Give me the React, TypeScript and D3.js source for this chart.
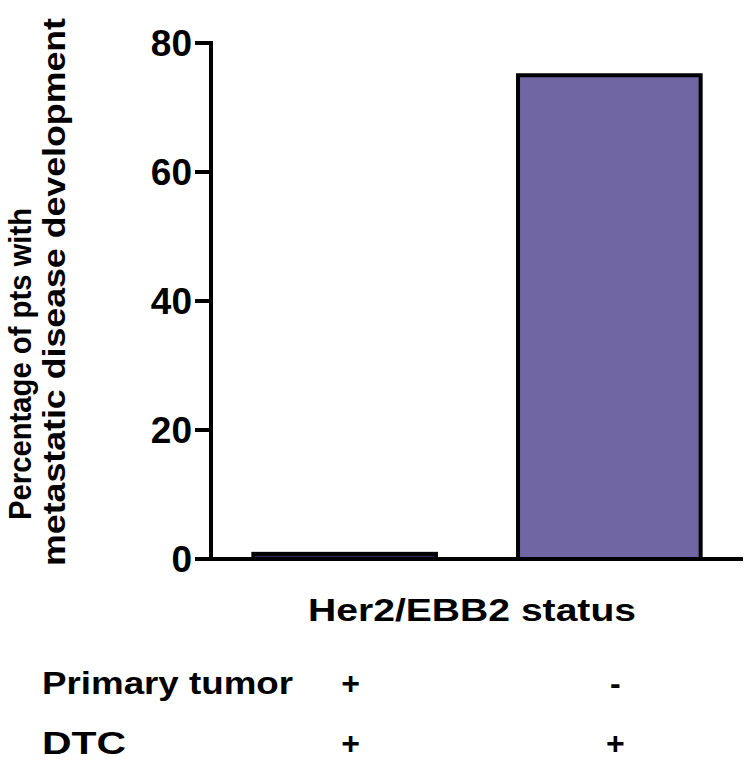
import React from 'react';
import * as d3 from 'd3';

// chart values
const categories = ['PT+ / DTC+', 'PT- / DTC+'];
const percentValues = [0.8, 75];
const primaryTumorStatus = ['+', '-'];
const dtcStatus = ['+', '+'];
const yTicks = [0, 20, 40, 60, 80];

const W = 750;
const H = 764;
const FONT = '"Liberation Sans", Arial, Helvetica, sans-serif';

const App = () => {
  // plot frame
  const left = 211;
  const right = 743;
  const top = 43;
  const bottom = 559;

  const x = d3.scaleBand<string>()
    .domain(categories)
    .range([left, right])
    .paddingInner(0.31)
    .paddingOuter(0.16);

  const y = d3.scaleLinear()
    .domain([0, 80])
    .range([bottom, top]);

  const barFill = (i: number) => (i === 0 ? '#2a2850' : '#6f66a3');

  return (
    <svg
      width={W}
      height={H}
      style={{ position: 'absolute', left: 0, top: 0, background: '#fff' }}
      fontFamily={FONT}
      fontWeight="bold"
    >
      {/* bars */}
      {categories.map((c, i) => (
        <rect
          key={c}
          x={x(c)}
          y={y(percentValues[i])}
          width={x.bandwidth()}
          height={y(0) - y(percentValues[i])}
          fill={barFill(i)}
          stroke="#000"
          strokeWidth={4}
        />
      ))}

      {/* y axis */}
      <line x1={left} x2={left} y1={top} y2={bottom} stroke="#000" strokeWidth={4} strokeLinecap="square" />
      <line x1={left} x2={right} y1={bottom} y2={bottom} stroke="#000" strokeWidth={4} />
      {yTicks.map(t => (
        <g key={t}>
          <line x1={left - 16} x2={left} y1={y(t)} y2={y(t)} stroke="#000" strokeWidth={4} />
          <text
            x={left - 19}
            y={y(t)}
            dy="0.36em"
            textAnchor="end"
            fontSize={37}
            fill="#000"
          >
            {t}
          </text>
        </g>
      ))}

      {/* y axis title, two lines */}
      <text
        transform={`translate(31, 364) scale(1.1, 1) rotate(-90)`}
        textAnchor="middle"
        fontSize={29}
        textLength={312}
        lengthAdjust="spacingAndGlyphs"
        fill="#000"
      >
        Percentage of pts with
      </text>
      <text
        transform={`translate(65, 292) scale(1.1, 1) rotate(-90)`}
        textAnchor="middle"
        fontSize={29}
        textLength={548}
        lengthAdjust="spacingAndGlyphs"
        fill="#000"
      >
        metastatic disease development
      </text>

      {/* x axis title */}
      <text
        x={308}
        y={621}
        fontSize={32}
        textLength={328}
        lengthAdjust="spacingAndGlyphs"
        fill="#000"
      >
        Her2/EBB2 status
      </text>

      {/* status table */}
      <text x={42} y={694} fontSize={32} textLength={251} lengthAdjust="spacingAndGlyphs" fill="#000">
        Primary tumor
      </text>
      <text x={42} y={754} fontSize={32} textLength={84} lengthAdjust="spacingAndGlyphs" fill="#000">
        DTC
      </text>
      {categories.map((c, i) => {
        const cx = (x(c) as number) + x.bandwidth() / 2 + 6;
        return (
          <g key={c}>
            <text x={cx} y={694} textAnchor="middle" fontSize={32} fill="#000">
              {primaryTumorStatus[i]}
            </text>
            <text x={cx} y={754} textAnchor="middle" fontSize={32} fill="#000">
              {dtcStatus[i]}
            </text>
          </g>
        );
      })}
    </svg>
  );
};

export default App;
